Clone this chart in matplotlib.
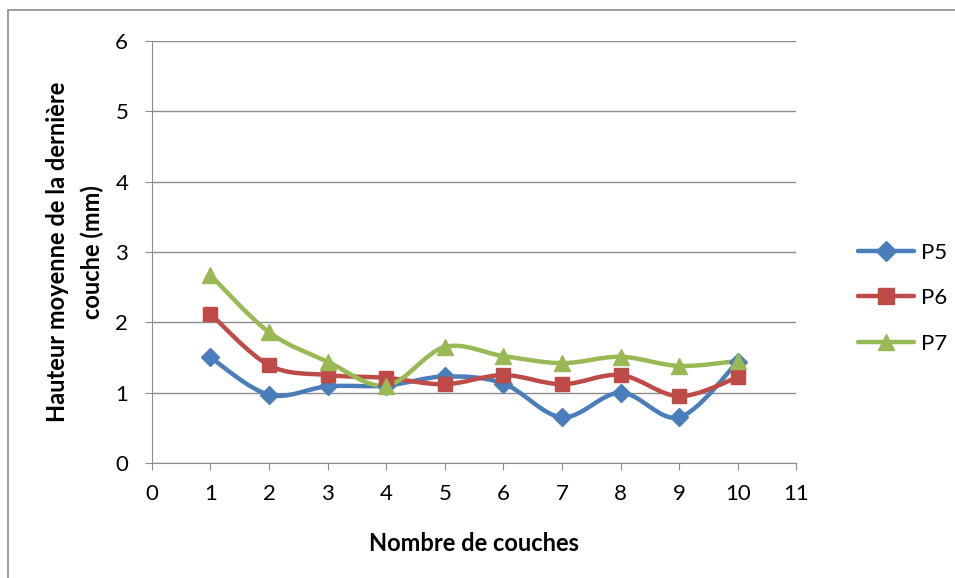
import numpy as np
import matplotlib.pyplot as plt
from matplotlib.path import Path
from matplotlib.patches import PathPatch, Rectangle
from matplotlib.lines import Line2D

plt.rcParams['font.family'] = ['Lato', 'DejaVu Sans']

couches = [1, 2, 3, 4, 5, 6, 7, 8, 9, 10]
p5 = [1.50, 0.97, 1.09, 1.10, 1.23, 1.13, 0.65, 1.00, 0.65, 1.44]
p6 = [2.12, 1.39, 1.25, 1.21, 1.12, 1.25, 1.12, 1.25, 0.95, 1.22]
p7 = [2.67, 1.86, 1.44, 1.10, 1.65, 1.52, 1.42, 1.51, 1.38, 1.45]

series = [('P5', p5, '#4A7EBB', 'D', 9),
          ('P6', p6, '#BE4B48', 's', 10),
          ('P7', p7, '#98B954', '^', 11)]


def smooth_path(x, y, t=1 / 6):
    # Excel-like smoothed line: Catmull-Rom converted to cubic Bezier segments
    x = np.asarray(x, float)
    y = np.asarray(y, float)
    px = np.concatenate([[x[0]], x, [x[-1]]])
    py = np.concatenate([[y[0]], y, [y[-1]]])
    verts = [(x[0], y[0])]
    codes = [Path.MOVETO]
    for i in range(1, len(x)):
        c1 = (px[i] + (px[i + 1] - px[i - 1]) * t, py[i] + (py[i + 1] - py[i - 1]) * t)
        c2 = (px[i + 1] - (px[i + 2] - px[i]) * t, py[i + 1] - (py[i + 2] - py[i]) * t)
        verts += [c1, c2, (x[i], y[i])]
        codes += [Path.CURVE4] * 3
    return Path(verts, codes)


fig = plt.figure(figsize=(9.55, 5.78), dpi=100)
ax = fig.add_axes([0.159, 0.199, 0.675, 0.730])

for name, vals, color, marker, ms in series:
    ax.add_patch(PathPatch(smooth_path(couches, vals), facecolor='none',
                           edgecolor=color, lw=3.2, capstyle='round', joinstyle='round'))
    ax.plot(couches, vals, linestyle='none', marker=marker, color=color, ms=ms)

ax.set_xlim(0, 11)
ax.set_ylim(0, 6)
ax.set_xticks(range(0, 12))
ax.set_yticks(range(0, 7))
ax.grid(axis='y', color='#8c8c8c', lw=1)
ax.set_axisbelow(True)
for s in ['top', 'right']:
    ax.spines[s].set_visible(False)
for s in ['left', 'bottom']:
    ax.spines[s].set_color('#8c8c8c')
ax.tick_params(colors='#8c8c8c', labelcolor='black', labelsize=16, length=5, direction='out')
ax.tick_params(axis='x', pad=10)
ax.tick_params(axis='y', pad=12)

ax.set_xlabel('Nombre de couches', fontsize=17, fontweight='bold', labelpad=20)
ax.set_ylabel('Hauteur moyenne de la dernière\ncouche (mm)', fontsize=17,
              fontweight='bold', labelpad=8, linespacing=1.6)

handles = [Line2D([0], [0], color=c, lw=3.2, marker=m, ms=ms + 1, solid_capstyle='round')
           for _, _, c, m, ms in series]
fig.legend(handles, [s[0] for s in series], loc='center left',
           bbox_to_anchor=(0.878, 0.484), frameon=False, fontsize=16,
           handlelength=2.5, labelspacing=1.15, handletextpad=0.3)

fig.add_artist(Rectangle((0.0084, -0.1), 1.2, 1.0827, transform=fig.transFigure,
                         fill=False, edgecolor='#8c8c8c', lw=1.2))

fig.savefig('out.png', dpi=100)
